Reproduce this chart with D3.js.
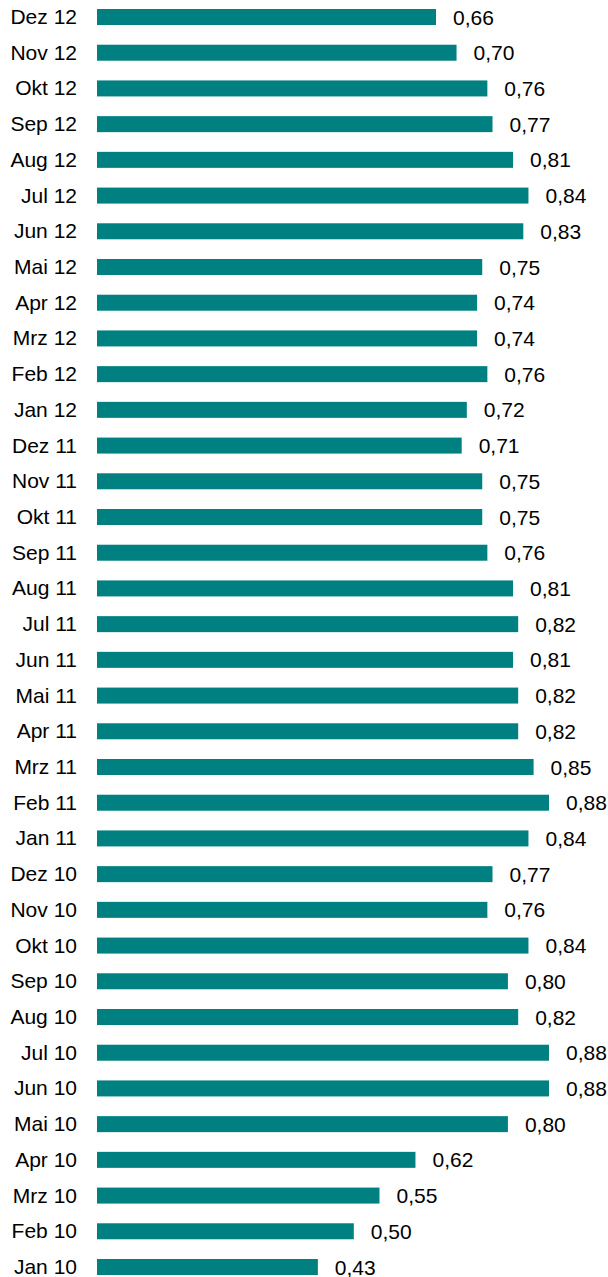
<!DOCTYPE html>
<html>
<head>
<meta charset="utf-8">
<script src="https://cdn.jsdelivr.net/npm/d3@7"></script>
<style>
  body { margin: 0; background: #fff; }
  text { font-family: "Liberation Sans", Arial, sans-serif; fill: #000; }
</style>
</head>
<body>
<div id="chart"></div>
<script>
let months = ["Dez 12", "Nov 12", "Okt 12", "Sep 12", "Aug 12", "Jul 12", "Jun 12", "Mai 12", "Apr 12", "Mrz 12", "Feb 12", "Jan 12",
  "Dez 11", "Nov 11", "Okt 11", "Sep 11", "Aug 11", "Jul 11", "Jun 11", "Mai 11", "Apr 11", "Mrz 11", "Feb 11", "Jan 11",
  "Dez 10", "Nov 10", "Okt 10", "Sep 10", "Aug 10", "Jul 10", "Jun 10", "Mai 10", "Apr 10", "Mrz 10", "Feb 10", "Jan 10"];

let values = [0.66, 0.70, 0.76, 0.77, 0.81, 0.84, 0.83, 0.75, 0.74, 0.74, 0.76, 0.72,
  0.71, 0.75, 0.75, 0.76, 0.81, 0.82, 0.81, 0.82, 0.82, 0.85, 0.88, 0.84,
  0.77, 0.76, 0.84, 0.80, 0.82, 0.88, 0.88, 0.80, 0.62, 0.55, 0.50, 0.43];

let svgWidth = 608;
let svgHeight = 1277;

let data = months.map((m, i) => ({ month: m, value: values[i] }));

let svg = d3.select("#chart")
  .append("svg")
  .attr("width", svgWidth)
  .attr("height", svgHeight);

// x: 0 sits at the left edge of the bars
let x = d3.scaleLinear()
  .domain([0, 0.88])
  .range([97, 549]);

let y = d3.scaleBand()
  .domain(months)
  .range([9, 1275])
  .paddingInner(0.552)
  .paddingOuter(0);

svg.selectAll(".bar")
  .data(data)
  .enter()
  .append("rect")
  .attr("class", "bar")
  .attr("x", x(0))
  .attr("y", d => y(d.month))
  .attr("width", d => x(d.value) - x(0))
  .attr("height", y.bandwidth())
  .attr("fill", "#008080");

// month labels on the left
svg.selectAll(".cat")
  .data(data)
  .enter()
  .append("text")
  .attr("class", "cat")
  .attr("x", 77)
  .attr("y", d => y(d.month) + y.bandwidth() / 2 + 7)
  .attr("text-anchor", "end")
  .style("font-size", "21px")
  .text(d => d.month);

// value labels
let fmt = d3.format(".2f");
svg.selectAll(".val")
  .data(data)
  .enter()
  .append("text")
  .attr("class", "val")
  .attr("x", d => x(d.value) + 17)
  .attr("y", d => y(d.month) + y.bandwidth() / 2 + 7.5)
  .style("font-size", "21px")
  .text(d => fmt(d.value).replace(".", ","));
</script>
</body>
</html>
